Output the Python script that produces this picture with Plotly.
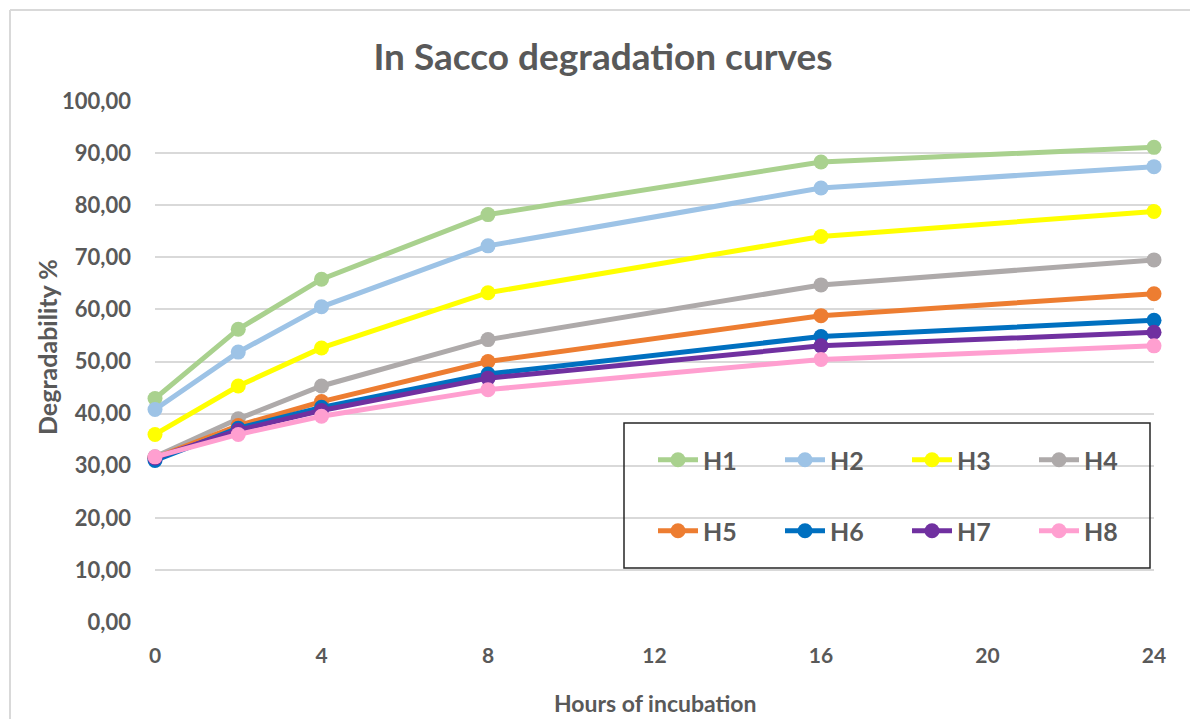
import plotly.graph_objects as go

hours = [0, 2, 4, 8, 16, 24]
series_names = ["H1", "H2", "H3", "H4", "H5", "H6", "H7", "H8"]
H1 = [42.9, 56.2, 65.8, 78.2, 88.3, 91.1]
H2 = [40.8, 51.8, 60.5, 72.2, 83.3, 87.4]
H3 = [36.0, 45.3, 52.6, 63.2, 74.0, 78.8]
H4 = [31.7, 39.0, 45.3, 54.2, 64.7, 69.5]
H5 = [31.5, 37.7, 42.3, 50.0, 58.8, 63.0]
H6 = [31.0, 37.2, 41.2, 47.6, 54.8, 57.9]
H7 = [31.5, 36.8, 40.6, 46.8, 53.0, 55.6]
H8 = [31.7, 36.0, 39.5, 44.6, 50.4, 53.0]
series_values = [H1, H2, H3, H4, H5, H6, H7, H8]
colors = ["#A9D18E", "#9DC3E6", "#FFFF00", "#AEAAAA",
          "#ED7D31", "#0070C0", "#7030A0", "#FF9FD0"]
x_ticks = [0, 4, 8, 12, 16, 20, 24]
y_ticks = [0, 10, 20, 30, 40, 50, 60, 70, 80, 90, 100]

W, H = 1190, 719
ML, MR, MT, MB = 155, 36, 101, 97
PW, PH = W - ML - MR, H - MT - MB


def px(x):
    return (x - ML) / PW


def py(y):
    return (H - MB - y) / PH


FONT = "Lato"
TXT = "#595959"

fig = go.Figure()
for i, (name, vals, col) in enumerate(zip(series_names, series_values, colors)):
    fig.add_trace(go.Scatter(
        x=hours, y=vals, name=name, mode="lines+markers",
        line=dict(color=col, width=5),
        marker=dict(color=col, size=15),
        cliponaxis=False,
        legend="legend" if i < 4 else "legend2",
    ))

legend_common = dict(
    orientation="h", xanchor="left", yanchor="middle",
    font=dict(family=FONT, size=25, color=TXT, weight="bold"),
    bgcolor="rgba(0,0,0,0)", borderwidth=0,
    entrywidth=72, entrywidthmode="pixels", itemwidth=40,
)

fig.update_layout(
    width=W, height=H,
    margin=dict(l=ML, r=MR, t=MT, b=MB, autoexpand=False),
    paper_bgcolor="white", plot_bgcolor="white",
    separators=", ",
    title=dict(text="In Sacco degradation curves", x=px(603), xanchor="center",
               xref="paper", y=1 - 57 / H, yanchor="middle",
               font=dict(family=FONT, size=37, color=TXT, weight="bold")),
    xaxis=dict(range=[0, 24], tickvals=x_ticks, showgrid=False, zeroline=False,
               showline=False, ticks="", ticklabelstandoff=19,
               tickfont=dict(family=FONT, size=21, color=TXT, weight="bold")),
    yaxis=dict(range=[0, 100], tickvals=y_ticks, tickformat=".2f",
               showgrid=True, gridcolor="#D9D9D9", gridwidth=2,
               zeroline=False, showline=False, ticks="", ticklabelstandoff=23,
               tickfont=dict(family=FONT, size=22, color=TXT, weight="bold")),
    legend=dict(x=px(653), y=py(460), **legend_common),
    legend2=dict(x=px(653), y=py(531), **legend_common),
    showlegend=True,
    annotations=[
        dict(text="Hours of incubation", xref="paper", yref="paper",
             x=px(655), y=py(703), xanchor="center", yanchor="middle",
             showarrow=False,
             font=dict(family=FONT, size=23, color=TXT, weight="bold")),
        dict(text="Degradability %", xref="paper", yref="paper",
             x=px(47), y=py(347), xanchor="center", yanchor="middle",
             textangle=-90, showarrow=False,
             font=dict(family=FONT, size=25, color=TXT, weight="bold")),
    ],
    shapes=[
        dict(type="rect", xref="paper", yref="paper",
             x0=px(624), x1=px(1150), y0=py(568), y1=py(423),
             line=dict(color="#262626", width=1.5), fillcolor="rgba(0,0,0,0)",
             layer="above"),
        dict(type="line", xref="paper", yref="paper",
             x0=px(10), x1=px(1200), y0=py(10), y1=py(10),
             line=dict(color="#D9D9D9", width=2)),
        dict(type="line", xref="paper", yref="paper",
             x0=px(10), x1=px(10), y0=py(10), y1=py(730),
             line=dict(color="#D9D9D9", width=2)),
    ],
)

fig.write_html("out.html")
